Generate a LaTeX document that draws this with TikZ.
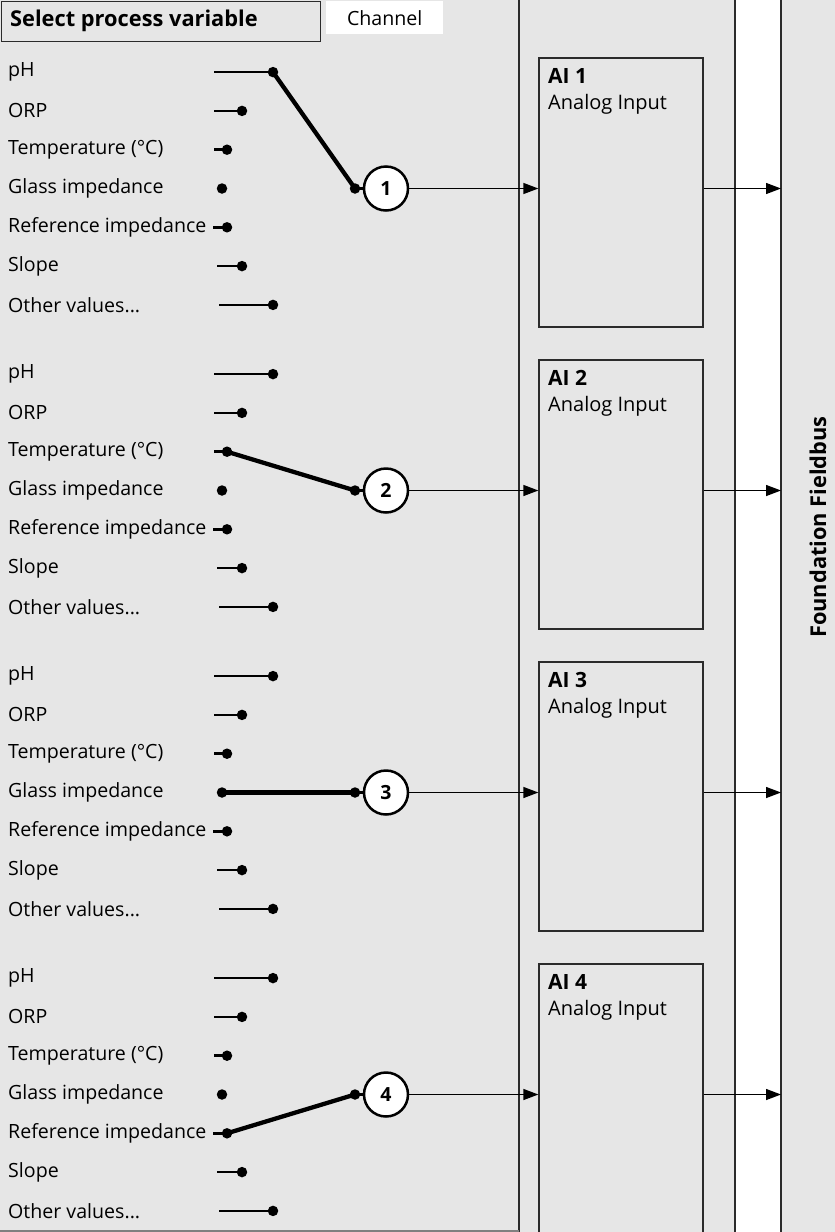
\documentclass[tikz,border=0pt]{standalone}
\usepackage{fontspec}
\setmainfont{Open Sans}
\usetikzlibrary{arrows.meta}
\definecolor{bg}{HTML}{E6E6E6}
\definecolor{ln}{HTML}{2B2B2B}
\tikzset{
  lbl/.style={anchor=west, inner sep=0pt, font=\fontsize{19.6}{22}\selectfont},
  dot/.style={circle, fill=black, inner sep=0pt, minimum size=10.5pt},
  stub/.style={line width=2.6pt},
  pick/.style={line width=4.3pt},
  numc/.style={circle, draw=black, line width=2.5pt, fill=white, minimum size=44pt, inner sep=0pt, font=\bfseries\fontsize{19.5}{22}\selectfont},
  aibox/.style={draw=ln, line width=1.3pt, fill=bg, minimum width=164pt, minimum height=269pt, inner sep=0pt},
  arr/.style={line width=1.3pt, -{Triangle[length=15pt,width=11pt]}},
  vline/.style={draw=ln, line width=1.3pt}
}
\begin{document}
\begin{tikzpicture}[x=1pt,y=-1pt]
\useasboundingbox (0,0) rectangle (835,1232);
\fill[bg] (0,0) rectangle (835,1232);
\fill[white] (735,0) rectangle (781,1232);
\coordinate (p0) at (519,0);
\coordinate (p1) at (519,1232);
\coordinate (w0) at (735,0);
\coordinate (w1) at (735,1232);
\coordinate (b0) at (781,0);
\coordinate (b1) at (781,1232);
\draw[vline] (p0) -- (p1);
\draw[vline] (w0) -- (w1);
\draw[vline] (b0) -- (b1);
\coordinate (f0) at (0,1231);
\draw[draw=gray, line width=1.3pt] (f0) -- (p1 |- f0);
% header
\node[draw=ln, line width=1.3pt, fill=bg, minimum width=319pt, minimum height=40pt, inner sep=0pt, anchor=north west] (sel) at (1,0.5) {};
\node[anchor=west, inner sep=0pt, font=\bfseries\fontsize{21.8}{24}\selectfont] (selt) at (10,21) {Select process variable};
\node[fill=white, minimum width=117pt, minimum height=33pt, inner sep=0pt, anchor=north west, font=\fontsize{19.6}{22}\selectfont] (chan) at (326,1) {Channel};
\node[rotate=90, font=\bfseries\fontsize{21.8}{24}\selectfont, inner sep=0pt] (fb) at (818,527) {Foundation Fieldbus};
\foreach \g in {1,...,4}{
  \pgfmathsetmacro\gy{187+302*(\g-1)}
  \foreach \r/\txt/\xs/\xe in {1/pH/214/273, 2/ORP/214/242, 3/{Temperature (°C)}/214/227, 4/{Glass impedance}/219/222, 5/{Reference impedance}/213/227, 6/Slope/217/242, 7/{Other values...}/219/273}{
    \pgfmathsetmacro\ry{\gy+38.8*(\r-4)}
    \node[lbl] (t\g-\r) at (8,\ry+1.5) {\txt};
    \coordinate (s\g-\r) at (\xs,\ry+1.5);
    \node[dot] (d\g-\r) at (\xe,\ry+1.5) {};
    \draw[stub] (s\g-\r) -- (d\g-\r.center);
  }
  \node[dot] (k\g) at (355,\gy+1.5) {};
  \node[numc] (c\g) at (386,\gy+1.5) {\g};
  \draw[stub] (k\g.center) -- (c\g.west);
  \node[aibox] (ai\g) at (621,\gy+5.5) {};
  \node[anchor=base west, inner sep=0pt, font=\bfseries\fontsize{21}{24}\selectfont] (ain\g) at (548,\gy-104) {AI \g};
  \node[anchor=base west, inner sep=0pt, font=\fontsize{20}{22}\selectfont] (aid\g) at (548,\gy-78) {Analog Input};
  \draw[arr] (c\g.east) -- (c\g.east -| ai\g.west);
  \draw[arr] (c\g.east -| ai\g.east) -- (c\g.east -| b0);
}
\draw[pick] (d1-1.center) -- (k1.center);
\draw[pick] (d2-3.center) -- (k2.center);
\draw[pick] (d3-4.center) -- (k3.center);
\draw[pick] (d4-5.center) -- (k4.center);
\end{tikzpicture}
\end{document}
